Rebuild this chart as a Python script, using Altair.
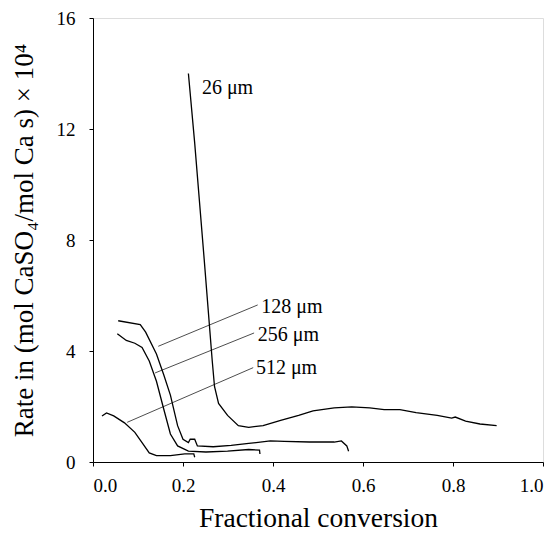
import altair as alt
import pandas as pd

# 26 um
x26 = [0.212, 0.226, 0.247, 0.265, 0.270, 0.279, 0.299, 0.323, 0.346, 0.378, 0.417, 0.457, 0.489, 0.536, 0.575, 0.615, 0.647, 0.682, 0.718, 0.765, 0.797, 0.805, 0.828, 0.860, 0.897]
y26 = [14.0, 11.49, 7.32, 3.64, 2.72, 2.11, 1.68, 1.31, 1.25, 1.31, 1.50, 1.68, 1.84, 1.95, 1.99, 1.95, 1.89, 1.89, 1.78, 1.68, 1.58, 1.62, 1.47, 1.37, 1.31]
# 128 um
x128 = [0.056, 0.105, 0.117, 0.141, 0.157, 0.172, 0.188, 0.200, 0.212, 0.216, 0.226, 0.232, 0.267, 0.307, 0.346, 0.394, 0.425, 0.481, 0.536, 0.552, 0.564, 0.568]
y128 = [5.09, 4.95, 4.68, 3.89, 3.15, 2.41, 1.31, 0.82, 0.70, 0.82, 0.82, 0.58, 0.55, 0.60, 0.67, 0.76, 0.74, 0.72, 0.72, 0.76, 0.58, 0.39]
# 256 um
x256 = [0.054, 0.074, 0.093, 0.109, 0.125, 0.141, 0.157, 0.172, 0.188, 0.212, 0.251, 0.299, 0.346, 0.370, 0.371]
y256 = [4.62, 4.38, 4.28, 4.13, 3.64, 2.91, 1.92, 1.01, 0.58, 0.39, 0.36, 0.39, 0.45, 0.43, 0.29]
# 512 um
x512 = [0.020, 0.030, 0.046, 0.070, 0.093, 0.109, 0.125, 0.141, 0.172, 0.204, 0.224, 0.226]
y512 = [1.66, 1.77, 1.66, 1.41, 1.07, 0.70, 0.33, 0.23, 0.23, 0.29, 0.29, 0.17]

# labels
label_text = ["26 \u03bcm", "128 \u03bcm", "256 \u03bcm", "512 \u03bcm"]
label_x = [0.242, 0.374, 0.366, 0.362]
label_y = [13.48, 5.60, 4.56, 3.37]
# leader lines
lead_x1 = [0.145, 0.138, 0.076]
lead_y1 = [4.17, 3.21, 1.43]
lead_x2 = [0.366, 0.358, 0.356]
lead_y2 = [5.66, 4.65, 3.40]

x_ticks = [0.0, 0.2, 0.4, 0.6, 0.8, 1.0]
y_ticks = [0, 4, 8, 12, 16]

rows = []
for name, xs_, ys_ in [("26", x26, y26), ("128", x128, y128), ("256", x256, y256), ("512", x512, y512)]:
    for i, (a, b) in enumerate(zip(xs_, ys_)):
        rows.append({"series": name, "order": i, "x": a, "y": b})
df = pd.DataFrame(rows)
lab = pd.DataFrame({"t": label_text, "x": label_x, "y": label_y})
lead = pd.DataFrame({"x": lead_x1, "y": lead_y1, "x2": lead_x2, "y2": lead_y2})

FONT = "Liberation Serif"
xs = alt.Scale(domain=[0, 1], nice=False, zero=False)
ys = alt.Scale(domain=[0, 16], nice=False)

xaxis = alt.Axis(title="Fractional conversion", values=x_ticks, format=".1f",
                 labelFont=FONT, labelFontSize=19, labelColor="black", labelPadding=10,
                 titleFont=FONT, titleFontSize=27.5, titleFontWeight="normal", titleColor="black",
                 titleY=64, titleBaseline="alphabetic",
                 grid=False, domainColor="black", tickColor="black", tickSize=4)
yaxis = alt.Axis(title="Rate in (mol CaSO\u2084/mol Ca s) \u00d7 10\u2074", values=y_ticks,
                 labelFont=FONT, labelFontSize=19, labelColor="black", labelPadding=14,
                 titleFont=FONT, titleFontSize=27, titleFontWeight="normal", titleColor="black",
                 titleX=-61, titleBaseline="alphabetic",
                 grid=False, domainColor="black", tickColor="black", tickSize=4)

lines = alt.Chart(df).mark_line(color="black", strokeWidth=1.3).encode(
    x=alt.X("x:Q", scale=xs, axis=xaxis),
    y=alt.Y("y:Q", scale=ys, axis=yaxis),
    detail="series:N",
    order="order:Q",
)
leaders = alt.Chart(lead).mark_rule(color="black", strokeWidth=0.7).encode(
    x="x:Q", y="y:Q", x2="x2:Q", y2="y2:Q"
)
texts = alt.Chart(lab).mark_text(align="left", baseline="middle", font=FONT, fontSize=20, color="black").encode(
    x="x:Q", y="y:Q", text="t:N"
)

chart = alt.layer(lines, leaders, texts).properties(
    width=450, height=444,
    autosize=alt.AutoSizeParams(type="none"),
    padding={"left": 93, "top": 18, "right": 15, "bottom": 71},
).configure_view(stroke="black", strokeWidth=1).configure(background="white")

chart.save("out.html", embed_options={"renderer": "svg", "actions": False})
